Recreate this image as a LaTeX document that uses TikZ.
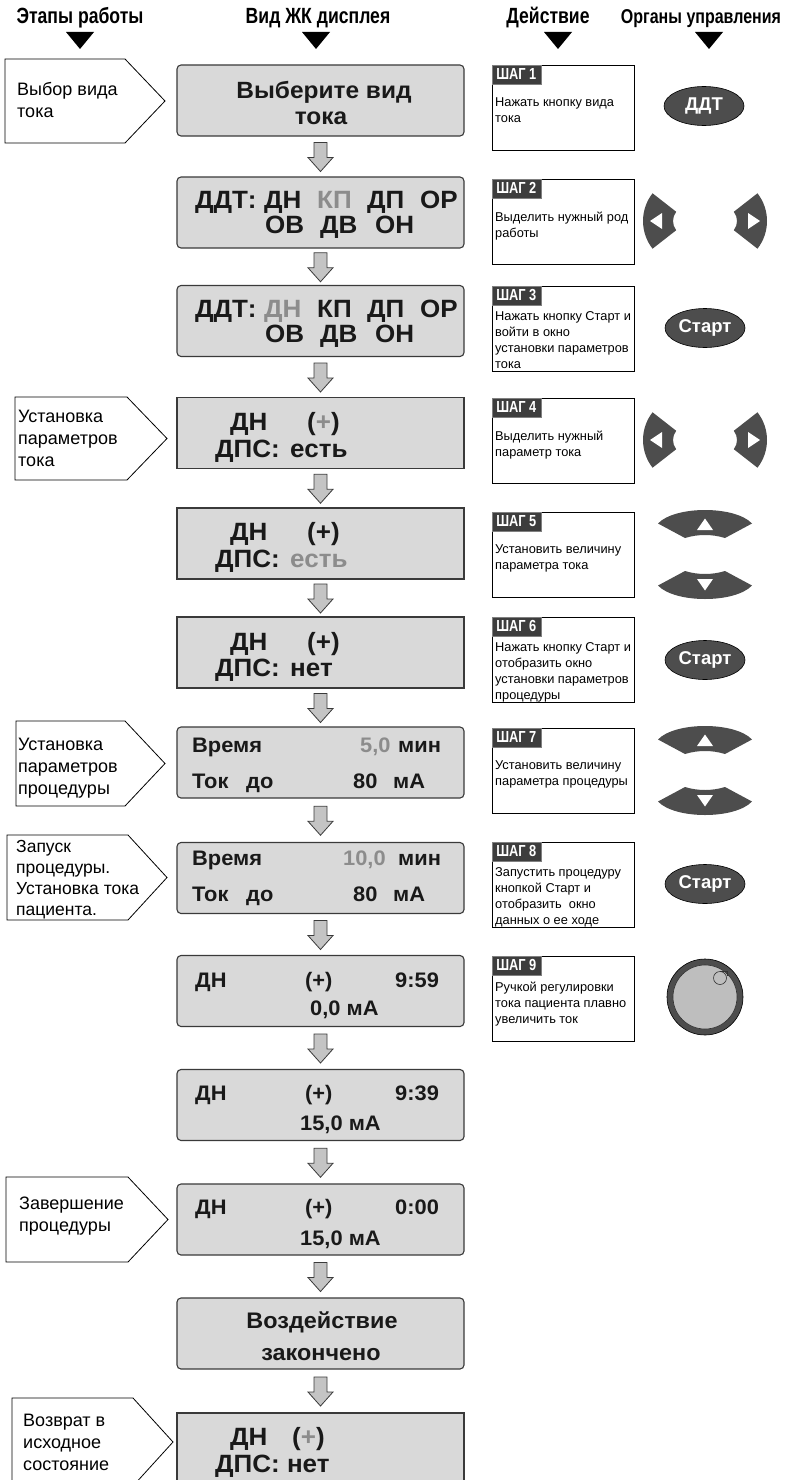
\documentclass[tikz,border=0pt]{standalone}
\usepackage{fontspec}
\setmainfont{Liberation Sans}
\newfontfamily\hdrfont{Liberation Sans}[FakeStretch=0.8]
\newfontfamily\lcdfont{Liberation Sans}[FakeStretch=1.04]
\usetikzlibrary{shapes.geometric,calc}
\definecolor{lcdfill}{HTML}{D9D9D9}
\definecolor{lcdline}{HTML}{3A3A3A}
\definecolor{hl}{HTML}{8C8C8C}
\definecolor{btn}{HTML}{4D4D4D}
\definecolor{arrowfill}{HTML}{C4C4C4}
\definecolor{knobin}{HTML}{BEBEBE}
\definecolor{tabgray}{HTML}{3D3D3D}
\tikzset{
  lcdbox/.style={draw=lcdline, fill=lcdfill, line width=1.1pt, minimum width=287pt, minimum height=71pt, inner sep=0pt, rounded corners=4pt},
  lcdsq/.style={draw=lcdline, fill=lcdfill, line width=1.1pt, minimum width=287pt, minimum height=71pt, inner sep=0pt},
  lcdL/.style={font=\lcdfont\bfseries\fontsize{25}{25}\selectfont, anchor=base west, inner sep=0pt, text=black!90},
  lcdM/.style={font=\lcdfont\bfseries\fontsize{21}{21}\selectfont, anchor=base west, inner sep=0pt, text=black!90},
  lcdT/.style={font=\lcdfont\bfseries\fontsize{23.5}{23.5}\selectfont, anchor=base, inner sep=0pt, text=black!90},
  hdr/.style={font=\hdrfont\bfseries\fontsize{22}{22}\selectfont, anchor=base, inner sep=0pt},
  stepbox/.style={draw=black, line width=0.8pt, minimum width=142pt, minimum height=85pt, inner sep=0pt},
  steptab/.style={fill=tabgray, draw=gray, line width=0.5pt, text=white, font=\hdrfont\bfseries\fontsize{16}{16}\selectfont, minimum width=49pt, minimum height=19pt, inner sep=0pt, anchor=north west},
  steptext/.style={font=\fontsize{12.8}{16}\selectfont, align=left, anchor=north west, inner sep=0pt},
  phase/.style={font=\fontsize{18}{22}\selectfont, align=left, anchor=north west, inner sep=0pt},
  pent/.style={draw=black, fill=white, line width=0.8pt},
  blk/.style={draw=lcdline, fill=arrowfill, line width=0.8pt},
  btnnode/.style={ellipse, fill=btn, draw=black, line width=0.6pt, minimum width=80pt, minimum height=39pt, text=white, font=\bfseries\fontsize{18.5}{18.5}\selectfont, inner sep=0pt},
  tri/.style={fill=black},
  lrpair/.pic={
    \fill[btn] (-52.46,27.7) arc[start angle=142,end angle=218,radius=45] -- (-28.82,-9.23) arc[start angle=218,end angle=142,radius=15] -- cycle;
    \fill[white] (-55,0) -- (-43,-8) -- (-43,8) -- cycle;
    \fill[btn] (52.46,-27.7) arc[start angle=-38,end angle=38,radius=45] -- (28.82,9.23) arc[start angle=38,end angle=-38,radius=15] -- cycle;
    \fill[white] (55,0) -- (43,-8) -- (43,8) -- cycle;
  },
  udpair/.pic={
    \fill[btn] (-47,-31) .. controls (-30,-49) and (30,-49) .. (47,-31) -- (20,-16.5) .. controls (7,-20.5) and (-7,-20.5) .. (-20,-16.5) -- cycle;
    \fill[white] (0,-36) -- (8,-24.5) -- (-8,-24.5) -- cycle;
    \fill[btn] (-47,31) .. controls (-30,49) and (30,49) .. (47,31) -- (20,16.5) .. controls (7,20.5) and (-7,20.5) .. (-20,16.5) -- cycle;
    \fill[white] (0,36) -- (8,24.5) -- (-8,24.5) -- cycle;
  },
  knobpic/.pic={
    \draw[fill=btn, draw=black, line width=0.6pt] (0,0) circle[radius=38];
    \draw[fill=knobin, draw=black!80, line width=0.6pt] (0,0) circle[radius=32];
    \draw[fill=knobin, draw=black!80, line width=0.6pt] (15,-19) circle[radius=6.5];
    \draw[black!80, line width=0.6pt] (15,-25.5) -- (22,-25.5) -- (22,-21);
  }
}
\newcommand\blockarrow[2]{%
  \draw[blk] ($(#1.south)!0.5!(#2.north)$) ++(-6.5,-14) -- ++(13,0) -- ++(0,15) -- ++(6,0) -- ++(-12.5,14) -- ++(-12.5,-14) -- ++(6,0) -- cycle;}
\begin{document}
\begin{tikzpicture}[x=1pt,y=-1pt]
\useasboundingbox (0,0) rectangle (785,1480);
\clip (0,0) rectangle (785,1480);
\fill[white] (0,0) rectangle (785,1480);

% headers
\node[hdr] (h1) at (80,24) {Этапы работы};
\node[hdr] (h2) at (318,24) {Вид ЖК дисплея};
\node[hdr] (h3) at (548,24) {Действие};
\node[hdr, font=\hdrfont\bfseries\fontsize{20}{20}\selectfont] (h4) at (701,24) {Органы управления};
\fill[tri] (66,32) -- (94,32) -- (80,49) -- cycle;
\fill[tri] (302,32) -- (330,32) -- (316,49) -- cycle;
\fill[tri] (544,32) -- (572,32) -- (558,49) -- cycle;
\fill[tri] (695,32) -- (723,32) -- (709,49) -- cycle;

% phase pentagons
\draw[pent] (5,59) -- (125,59) -- (165,101) -- (125,143) -- (5,143) -- cycle;
\node[phase] (p1) at (17,82) {Выбор вида\\тока};
\draw[pent] (15,397) -- (127,397) -- (167,438.5) -- (127,480) -- (15,480) -- cycle;
\node[phase] (p2) at (18,410) {Установка\\параметров\\тока};
\draw[pent] (16,721) -- (125,721) -- (165,763.5) -- (125,806) -- (16,806) -- cycle;
\node[phase] (p3) at (18,738) {Установка\\параметров\\процедуры};
\draw[pent] (7,835) -- (128,835) -- (167,877.5) -- (128,920) -- (7,920) -- cycle;
\node[phase, font=\fontsize{17.5}{21}\selectfont] (p4) at (16,840) {Запуск\\процедуры.\\Установка тока\\пациента.};
\draw[pent] (6,1177) -- (128,1177) -- (168,1219.5) -- (128,1262) -- (6,1262) -- cycle;
\node[phase] (p5) at (19,1197) {Завершение\\процедуры};
\draw[pent] (12,1398) -- (133,1398) -- (173,1442) -- (133,1486) -- (12,1486) -- cycle;
\node[phase] (p6) at (23,1414) {Возврат в\\исходное\\состояние};

% LCD boxes
\node[lcdbox] (d1) at (320.5,100.5) {};
\node[lcdbox] (d2) at (320.5,212.5) {};
\node[lcdbox] (d3) at (320.5,321) {};
\node[lcdsq] (d4) at (320.5,433) {};
\node[lcdsq] (d5) at (320.5,543.5) {};
\node[lcdsq] (d6) at (320.5,652.5) {};
\node[lcdbox] (d7) at (320.5,762.5) {};
\node[lcdbox] (d8) at (320.5,878) {};
\node[lcdbox] (d9) at (320.5,991) {};
\node[lcdbox] (d10) at (320.5,1105) {};
\node[lcdbox] (d11) at (320.5,1219.5) {};
\node[lcdbox] (d12) at (320.5,1333.5) {};
\node[lcdsq] (d13) at (320.5,1448.5) {};

\blockarrow{d1}{d2}
\blockarrow{d2}{d3}
\blockarrow{d3}{d4}
\blockarrow{d4}{d5}
\blockarrow{d5}{d6}
\blockarrow{d6}{d7}
\blockarrow{d7}{d8}
\blockarrow{d8}{d9}
\blockarrow{d9}{d10}
\blockarrow{d10}{d11}
\blockarrow{d11}{d12}
\blockarrow{d12}{d13}

% LCD texts
\node[lcdT] (t1a) at (324,99) {Выберите вид};
\node[lcdT] (t1b) at (321,124) {тока};

\node[lcdL] (t2a) at (195,208) {ДДТ:};
\node[lcdL] (t2b) at (264,208) {ДН};
\node[lcdL, text=hl] (t2c) at (317,208) {КП};
\node[lcdL] (t2d) at (367,208) {ДП};
\node[lcdL] (t2e) at (420,208) {ОР};
\node[lcdL] (t2f) at (265,233) {ОВ};
\node[lcdL] (t2g) at (320,233) {ДВ};
\node[lcdL] (t2h) at (375,233) {ОН};

\node[lcdL] (t3a) at (195,317) {ДДТ:};
\node[lcdL, text=hl] (t3b) at (264,317) {ДН};
\node[lcdL] (t3c) at (317,317) {КП};
\node[lcdL] (t3d) at (367,317) {ДП};
\node[lcdL] (t3e) at (420,317) {ОР};
\node[lcdL] (t3f) at (265,342) {ОВ};
\node[lcdL] (t3g) at (320,342) {ДВ};
\node[lcdL] (t3h) at (375,342) {ОН};

\node[lcdL] (t4a) at (230,430) {ДН};
\node[lcdL] (t4b) at (307,430) {(\textcolor{hl}{+})};
\node[lcdL] (t4c) at (215,457) {ДПС:};
\node[lcdL] (t4d) at (290,457) {есть};

\node[lcdL] (t5a) at (230,540) {ДН};
\node[lcdL] (t5b) at (307,540) {(+)};
\node[lcdL] (t5c) at (215,567) {ДПС:};
\node[lcdL, text=hl] (t5d) at (290,567) {есть};

\node[lcdL] (t6a) at (230,650) {ДН};
\node[lcdL] (t6b) at (307,650) {(+)};
\node[lcdL] (t6c) at (215,676) {ДПС:};
\node[lcdL] (t6d) at (290,676) {нет};

\node[lcdM] (t7a) at (192,752) {Время};
\node[lcdM, text=hl] (t7b) at (360,752) {5,0};
\node[lcdM] (t7c) at (398,752) {мин};
\node[lcdM] (t7d) at (192,788) {Ток};
\node[lcdM] (t7e) at (246,788) {до};
\node[lcdM] (t7f) at (353,788) {80};
\node[lcdM] (t7g) at (393,788) {мА};

\node[lcdM] (t8a) at (192,865) {Время};
\node[lcdM, text=hl] (t8b) at (343,865) {10,0};
\node[lcdM] (t8c) at (398,865) {мин};
\node[lcdM] (t8d) at (192,901) {Ток};
\node[lcdM] (t8e) at (246,901) {до};
\node[lcdM] (t8f) at (353,901) {80};
\node[lcdM] (t8g) at (393,901) {мА};

\node[lcdM] (t9a) at (195,987) {ДН};
\node[lcdM] (t9b) at (305,987) {(+)};
\node[lcdM] (t9c) at (395,987) {9:59};
\node[lcdM] (t9d) at (310,1015) {0,0 мА};

\node[lcdM] (t10a) at (195,1100) {ДН};
\node[lcdM] (t10b) at (305,1100) {(+)};
\node[lcdM] (t10c) at (395,1100) {9:39};
\node[lcdM] (t10d) at (300,1130) {15,0 мА};

\node[lcdM] (t11a) at (195,1214) {ДН};
\node[lcdM] (t11b) at (305,1214) {(+)};
\node[lcdM] (t11c) at (395,1214) {0:00};
\node[lcdM] (t11d) at (300,1245) {15,0 мА};

\node[lcdT, font=\lcdfont\bfseries\fontsize{22.5}{22.5}\selectfont] (t12a) at (322,1328) {Воздействие};
\node[lcdT, font=\lcdfont\bfseries\fontsize{22.5}{22.5}\selectfont] (t12b) at (321,1360) {закончено};

\node[lcdL] (t13a) at (230,1445) {ДН};
\node[lcdL] (t13b) at (292,1445) {(\textcolor{hl}{+})};
\node[lcdL] (t13c) at (215,1472) {ДПС: нет};

% step boxes
\node[stepbox] (s1) at (563,107.5) {};
\node[steptab] (g1) at (s1.north west) {ШАГ 1};
\node[steptext] (x1) at (495,97.4) {Нажать кнопку вида\\тока};
\node[stepbox] (s2) at (563,221.5) {};
\node[steptab] (g2) at (s2.north west) {ШАГ 2};
\node[steptext] (x2) at (495,211.4) {Выделить нужный род\\работы};
\node[stepbox] (s3) at (563,328.5) {};
\node[steptab] (g3) at (s3.north west) {ШАГ 3};
\node[steptext] (x3) at (495,311.4) {Нажать кнопку Старт и\\войти в окно\\установки параметров\\тока};
\node[stepbox] (s4) at (563,440.5) {};
\node[steptab] (g4) at (s4.north west) {ШАГ 4};
\node[steptext] (x4) at (495,430.4) {Выделить нужный\\параметр тока};
\node[stepbox] (s5) at (563,554.5) {};
\node[steptab] (g5) at (s5.north west) {ШАГ 5};
\node[steptext] (x5) at (495,544.4) {Установить величину\\параметра тока};
\node[stepbox] (s6) at (563,659.5) {};
\node[steptab] (g6) at (s6.north west) {ШАГ 6};
\node[steptext] (x6) at (495,642.4) {Нажать кнопку Старт и\\отобразить окно\\установки параметров\\процедуры};
\node[stepbox] (s7) at (563,770.5) {};
\node[steptab] (g7) at (s7.north west) {ШАГ 7};
\node[steptext] (x7) at (495,760.4) {Установить величину\\параметра процедуры};
\node[stepbox] (s8) at (563,884.5) {};
\node[steptab] (g8) at (s8.north west) {ШАГ 8};
\node[steptext] (x8) at (495,867.4) {Запустить процедуру\\кнопкой Старт и\\отобразить\ \ окно\\данных о ее ходе};
\node[stepbox] (s9) at (563,998.5) {};
\node[steptab] (g9) at (s9.north west) {ШАГ 9};
\node[steptext] (x9) at (495,981.4) {Ручкой регулировки\\тока пациента плавно\\увеличить ток};

% controls
\node[btnnode] (c1) at (704,106) {ДДТ};
\pic (c2) at (705,221) {lrpair};
\node[btnnode] (c3) at (705,328) {Старт};
\pic (c4) at (705,440) {lrpair};
\pic (c5) at (705,554.5) {udpair};
\node[btnnode] (c6) at (705,660) {Старт};
\pic (c7) at (705,770.5) {udpair};
\node[btnnode] (c8) at (705,884) {Старт};
\pic (c9) at (705,997) {knobpic};
\end{tikzpicture}
\end{document}
